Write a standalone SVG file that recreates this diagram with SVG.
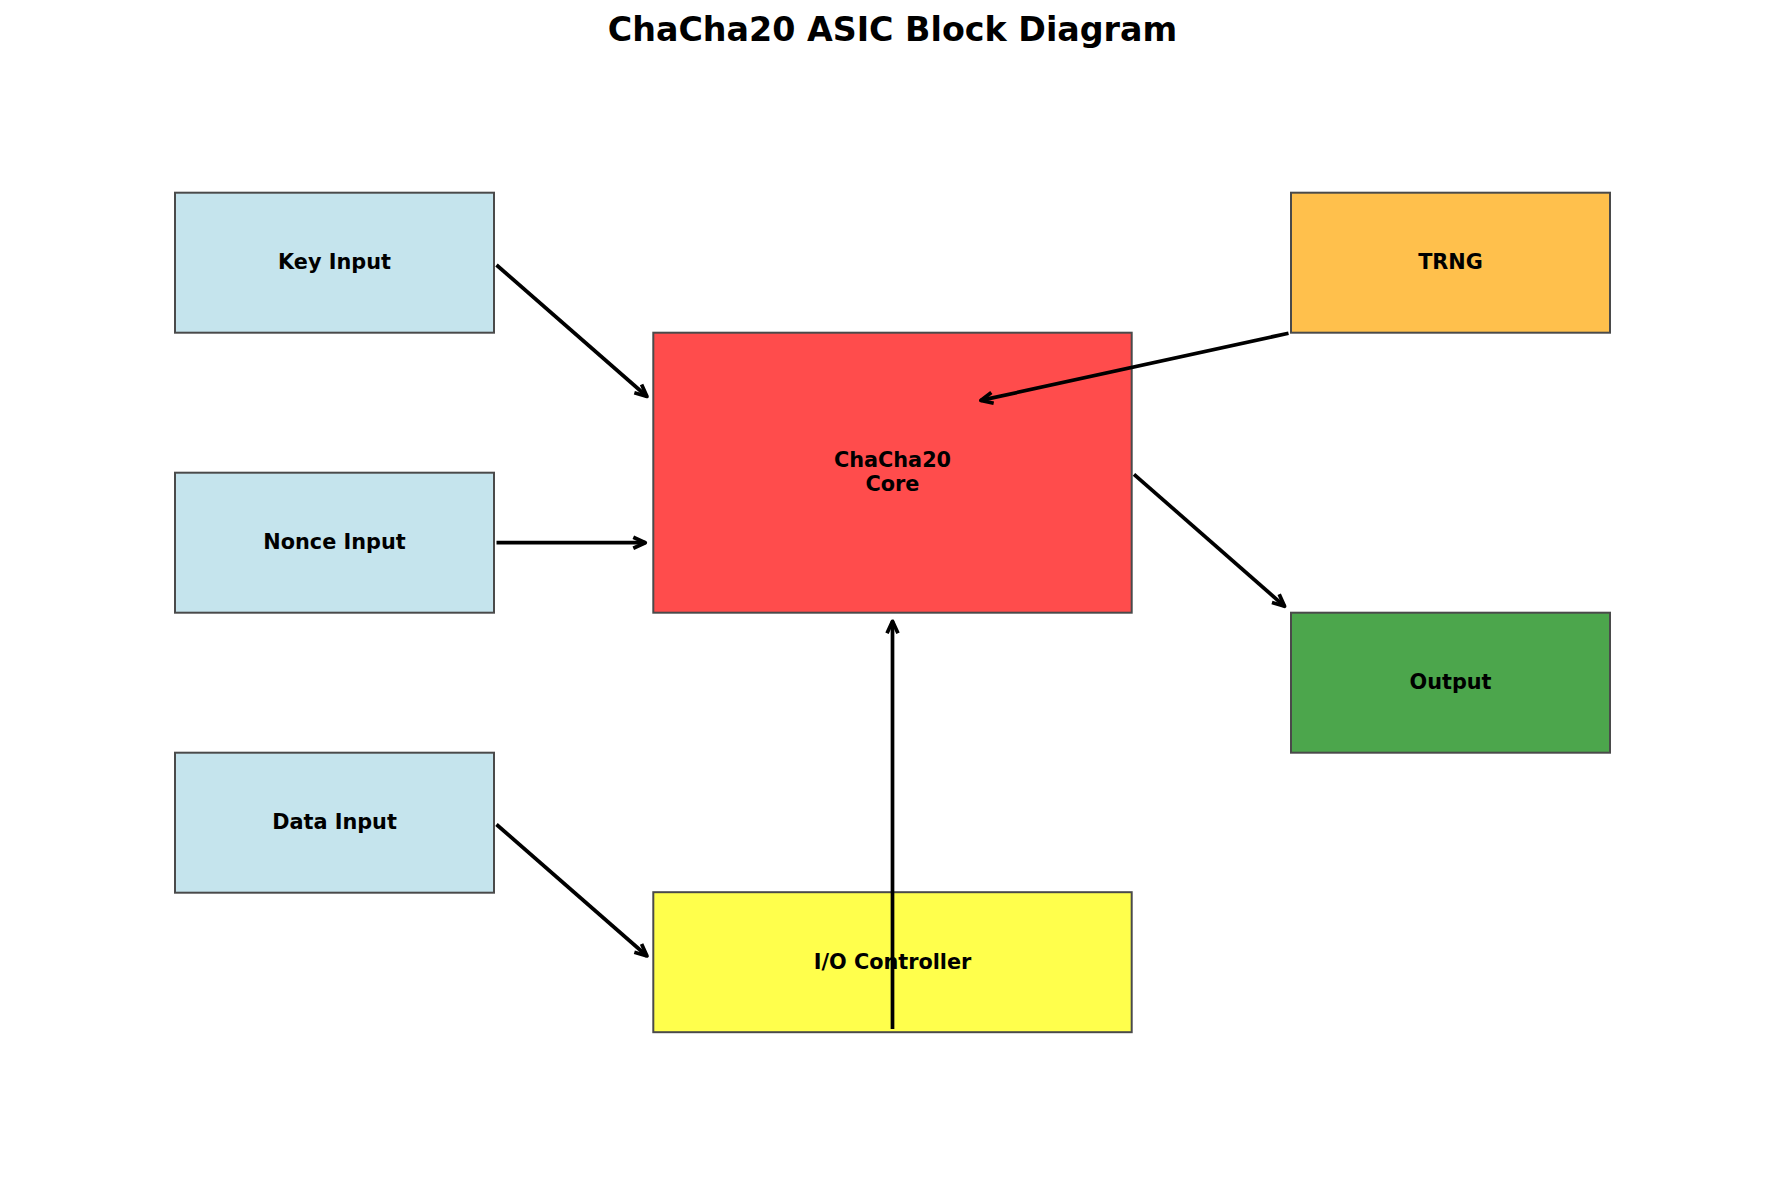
<svg xmlns="http://www.w3.org/2000/svg" width="1785" height="1187" viewBox="0 0 1785 1187">
<style>
.box{stroke:#4a4a4a;stroke-width:2}
.lbl{font-family:"DejaVu Sans",sans-serif;font-weight:bold;font-size:20.8px;text-anchor:middle;fill:#000}
.ttl{font-family:"DejaVu Sans",sans-serif;font-weight:bold;font-size:33.3px;text-anchor:middle;fill:#000}
.arr{stroke:#000;stroke-width:3.7;fill:none;marker-end:url(#head)}
</style>
<defs>
<marker id="head" markerUnits="userSpaceOnUse" orient="auto" refX="0" refY="0" markerWidth="20" markerHeight="20" overflow="visible">
<path d="M -12 -5.5 L 0 0 L -12 5.5" fill="none" stroke="#000" stroke-width="3.7" stroke-linejoin="round" stroke-linecap="butt"/>
</marker>
</defs>
<rect width="1785" height="1187" fill="#fff"/>
<text class="ttl" x="892.5" y="41">ChaCha20 ASIC Block Diagram</text>
<g id="key">
<rect class="box" x="175" y="192.7" width="319" height="140" fill="#C5E4ED"/>
<text class="lbl" x="334.5" y="269.3">Key Input</text>
</g>
<g id="nonce">
<rect class="box" x="175" y="472.7" width="319" height="140" fill="#C5E4ED"/>
<text class="lbl" x="334.5" y="549.3">Nonce Input</text>
</g>
<g id="data">
<rect class="box" x="175" y="752.7" width="319" height="140" fill="#C5E4ED"/>
<text class="lbl" x="334.5" y="829.3">Data Input</text>
</g>
<g id="core">
<rect class="box" x="653.3" y="332.7" width="478.4" height="280" fill="#FF4C4C"/>
<text class="lbl" x="892.5" y="466.7">ChaCha20</text>
<text class="lbl" x="892.5" y="490.5">Core</text>
</g>
<g id="io">
<rect class="box" x="653.3" y="892.2" width="478.4" height="140" fill="#FFFF4C"/>
<text class="lbl" x="892.5" y="968.8">I/O Controller</text>
</g>
<g id="trng">
<rect class="box" x="1291" y="192.7" width="319" height="140" fill="#FFC04C"/>
<text class="lbl" x="1450.5" y="269.3">TRNG</text>
</g>
<g id="output">
<rect class="box" x="1291" y="612.7" width="319" height="140" fill="#4CA64C"/>
<text class="lbl" x="1450.5" y="689.2">Output</text>
</g>
<g id="connectors">
<line class="arr" x1="496.5" y1="265" x2="647" y2="396.5"/>
<line class="arr" x1="496.5" y1="542.7" x2="645.3" y2="542.7"/>
<line class="arr" x1="496.5" y1="824.5" x2="647" y2="956"/>
<line class="arr" x1="1288.5" y1="333.2" x2="980.8" y2="400.4"/>
<line class="arr" x1="1134" y1="474.3" x2="1284.6" y2="606.3"/>
<line class="arr" x1="892.5" y1="1029" x2="892.5" y2="621.3"/>
</g>
</svg>
